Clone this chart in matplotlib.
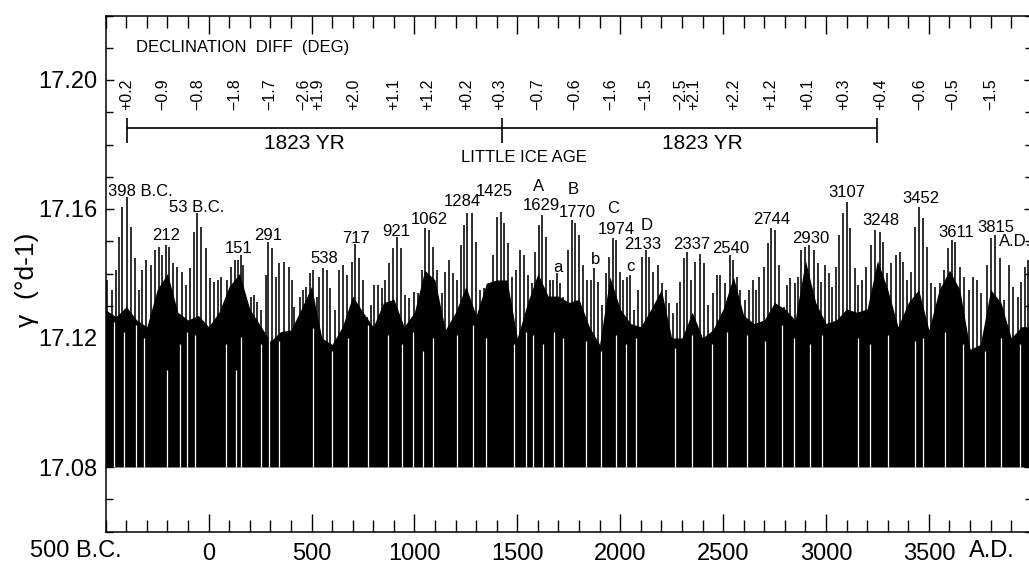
import numpy as np
import matplotlib
matplotlib.use('Agg')
import matplotlib.pyplot as plt
from matplotlib.ticker import MultipleLocator

plt.rcParams['font.family'] = ['Liberation Sans', 'DejaVu Sans']

# tall individual lines (year, gamma)
spike_years = [-492, -468, -452, -435, -419, -398, -379, -359, -338, -322, -306, -282, -262, -241,
               -225, -209, -192, -173, -152, -128, -111, -90, -71, -55, -35, -14, 7, 26, 46, 62,
               91, 107, 127, 143, 156, 169, 188, 204, 221, 237, 256, 277, 290, 310, 326, 342,
               366, 391, 407, 415, 444, 460, 473, 493, 509, 525, 538, 554, 574, 590, 614, 634,
               651, 671, 695, 711, 731, 749, 768, 787, 804, 825, 841, 857, 878, 898, 914, 933,
               954, 975, 998, 1019, 1035, 1051, 1073, 1092, 1108, 1132, 1149, 1170, 1189, 1205,
               1225, 1241, 1257, 1278, 1299, 1319, 1340, 1361, 1380, 1400, 1421, 1437, 1456,
               1474, 1494, 1513, 1534, 1554, 1571, 1588, 1604, 1620, 1640, 1659, 1675, 1691,
               1707, 1724, 1745, 1764, 1782, 1798, 1818, 1837, 1858, 1874, 1894, 1912, 1931,
               1947, 1963, 1980, 1999, 2015, 2031, 2048, 2069, 2088, 2106, 2125, 2142, 2161,
               2182, 2203, 2223, 2239, 2255, 2276, 2292, 2308, 2325, 2344, 2365, 2389, 2409,
               2427, 2449, 2470, 2487, 2511, 2532, 2548, 2568, 2584, 2605, 2624, 2644, 2660,
               2676, 2697, 2718, 2734, 2754, 2770, 2794, 2811, 2827, 2848, 2864, 2880, 2900,
               2919, 2940, 2961, 2977, 2997, 3013, 3029, 3049, 3065, 3083, 3102, 3118, 3139,
               3156, 3175, 3196, 3220, 3240, 3261, 3277, 3298, 3318, 3339, 3358, 3374, 3395,
               3415, 3434, 3452, 3471, 3491, 3512, 3531, 3552, 3573, 3593, 3612, 3629, 3650,
               3671, 3693, 3714, 3735, 3755, 3784, 3803, 3823, 3844, 3865, 3888, 3909, 3933,
               3949, 3965, 3982]
spike_vals = [17.1380, 17.1349, 17.1411, 17.1514, 17.1607, 17.1638, 17.1545, 17.1447, 17.1349,
              17.1411, 17.1442, 17.1426, 17.1473, 17.1483, 17.1457, 17.1488, 17.1483, 17.1432,
              17.1421, 17.1406, 17.1364, 17.1416, 17.1530, 17.1587, 17.1545, 17.1478, 17.1385,
              17.1375, 17.1380, 17.1388, 17.1380, 17.1421, 17.1442, 17.1442, 17.1457, 17.1426,
              17.1287, 17.1328, 17.1333, 17.1313, 17.1287, 17.1395, 17.1499, 17.1478, 17.1390,
              17.1432, 17.1437, 17.1421, 17.1380, 17.1297, 17.1328, 17.1349, 17.1359, 17.1401,
              17.1411, 17.1328, 17.1390, 17.1416, 17.1411, 17.1354, 17.1287, 17.1411, 17.1426,
              17.1395, 17.1437, 17.1491, 17.1447, 17.1380, 17.1266, 17.1302, 17.1364, 17.1364,
              17.1354, 17.1380, 17.1432, 17.1478, 17.1514, 17.1478, 17.1333, 17.1323, 17.1344,
              17.1339, 17.1411, 17.1540, 17.1535, 17.1481, 17.1411, 17.1339, 17.1406, 17.1442,
              17.1401, 17.1380, 17.1488, 17.1550, 17.1587, 17.1587, 17.1499, 17.1349, 17.1354,
              17.1370, 17.1457, 17.1576, 17.1592, 17.1556, 17.1494, 17.1390, 17.1411, 17.1473,
              17.1457, 17.1395, 17.1370, 17.1468, 17.1550, 17.1581, 17.1514, 17.1380, 17.1380,
              17.1401, 17.1370, 17.1328, 17.1473, 17.1566, 17.1556, 17.1519, 17.1426, 17.1380,
              17.1380, 17.1416, 17.1375, 17.1302, 17.1401, 17.1452, 17.1509, 17.1504, 17.1406,
              17.1380, 17.1390, 17.1395, 17.1287, 17.1349, 17.1452, 17.1473, 17.1452, 17.1406,
              17.1426, 17.1370, 17.1349, 17.1307, 17.1276, 17.1307, 17.1375, 17.1447, 17.1468,
              17.1380, 17.1437, 17.1462, 17.1432, 17.1302, 17.1339, 17.1395, 17.1395, 17.1370,
              17.1457, 17.1442, 17.1390, 17.1349, 17.1318, 17.1349, 17.1380, 17.1349, 17.1390,
              17.1421, 17.1494, 17.1540, 17.1535, 17.1426, 17.1297, 17.1364, 17.1385, 17.1370,
              17.1390, 17.1473, 17.1483, 17.1488, 17.1473, 17.1432, 17.1375, 17.1426, 17.1401,
              17.1359, 17.1421, 17.1519, 17.1587, 17.1623, 17.1540, 17.1416, 17.1364, 17.1380,
              17.1421, 17.1488, 17.1535, 17.1530, 17.1499, 17.1401, 17.1432, 17.1457, 17.1468,
              17.1437, 17.1380, 17.1406, 17.1545, 17.1607, 17.1571, 17.1483, 17.1370, 17.1359,
              17.1370, 17.1411, 17.1478, 17.1504, 17.1499, 17.1421, 17.1390, 17.1349, 17.1390,
              17.1380, 17.1339, 17.1426, 17.1509, 17.1519, 17.1447, 17.1318, 17.1426, 17.1359,
              17.1328, 17.1375, 17.1421, 17.1442]

# top of the solid black mass, every 50 years
mass_years = list(range(-500, 4001, 50))
mass_vals = [17.1287, 17.1266, 17.1297, 17.1256, 17.1235, 17.135, 17.140, 17.128, 17.1256, 17.127,
             17.1235, 17.128, 17.136, 17.140, 17.129, 17.124, 17.119, 17.122, 17.1225, 17.129,
             17.136, 17.120, 17.118, 17.1235, 17.133, 17.128, 17.1235, 17.131, 17.132, 17.1235,
             17.128, 17.141, 17.138, 17.1225, 17.128, 17.136, 17.127, 17.137, 17.138, 17.138,
             17.120, 17.131, 17.140, 17.133, 17.133, 17.131, 17.132, 17.1235, 17.118, 17.139,
             17.129, 17.1245, 17.1235, 17.129, 17.135, 17.120, 17.120, 17.128, 17.120, 17.1225,
             17.129, 17.139, 17.127, 17.1245, 17.1256, 17.131, 17.129, 17.1256, 17.144, 17.131,
             17.1245, 17.1256, 17.129, 17.128, 17.129, 17.144, 17.135, 17.1235, 17.131, 17.135,
             17.1225, 17.135, 17.141, 17.135, 17.1165, 17.118, 17.135, 17.131, 17.120, 17.1235,
             17.1235]
baseline = 17.08

# thin white streaks seen inside the black mass
gap_years = [-460, -411, -354, -314, -204, -139, -103, -68, 83, 132, 156, 253, 294, 342,
             509, 598, 679, 776, 873, 938, 995, 1043, 1092, 1205, 1286,
             1348, 1486, 1542, 1575, 1623, 1680, 1724, 1834, 1907, 1980, 2028, 2077,
             2268, 2349, 2446, 2519, 2616, 2705, 2786, 2843, 2924, 2981,
             3156, 3212, 3301, 3431, 3471, 3577, 3666, 3771, 3852, 3941]
gap_tops = [17.125, 17.122, 17.124, 17.120, 17.110, 17.118, 17.122, 17.121, 17.118, 17.110,
            17.1202, 17.118, 17.120, 17.119,
            17.123, 17.116, 17.120, 17.124, 17.121, 17.118, 17.122, 17.116, 17.120, 17.121, 17.124,
            17.120, 17.118, 17.122, 17.121, 17.118, 17.122, 17.120, 17.119, 17.116, 17.121,
            17.118, 17.120,
            17.117, 17.121, 17.118, 17.122, 17.121, 17.119, 17.124, 17.120, 17.118, 17.121,
            17.120, 17.118, 17.121, 17.119, 17.120, 17.122, 17.118, 17.116, 17.120, 17.118]

# peak labels
peak_labels = ['398 B.C.', '212', '53 B.C.', '151', '291', '538', '717', '921', '1062', '1284',
               '1425', '1629', 'A', 'B', '1770', 'C', '1974', 'D', '2133', 'a', 'b', 'c',
               '2337', '2540', '2744', '2930', '3107', '3248', '3452', '3611', '3815', 'A.D.']
peak_lab_x = [-333, -207, -56, 144, 289, 561, 717, 911, 1071, 1231, 1387, 1616, 1601, 1771,
              1790, 1965, 1980, 2126, 2111, 1698, 1878, 2048, 2349, 2539, 2738, 2927, 3102,
              3268, 3462, 3632, 3826, 3918]
peak_lab_y = [17.1653, 17.1519, 17.1606, 17.1479, 17.1519, 17.1448, 17.1510, 17.1529, 17.1566,
              17.1622, 17.1653, 17.1612, 17.1671, 17.1659, 17.1588, 17.1600, 17.1535, 17.1550,
              17.1491, 17.1420, 17.1442, 17.1423, 17.1491, 17.1479, 17.1566, 17.1510, 17.1650,
              17.1563, 17.1634, 17.1526, 17.1544, 17.1498]

# declination differences along the top
decl_labels = ['+0.2', '\u22120.9', '\u22120.8', '\u22121.8', '\u22121.7', '\u22122.6', '+1.9',
               '+2.0', '+1.1', '+1.2', '+0.2', '+0.3', '\u22120.7', '\u22120.6', '\u22121.6',
               '\u22121.5', '\u22122.5', '+2.1', '+2.2', '+1.2', '+0.1', '+0.3', '+0.4',
               '\u22120.6', '\u22120.5', '\u22121.5']
decl_years = [-398, -222, -52, 128, 299, 461, 530, 706, 901, 1066, 1256, 1416, 1601, 1781, 1956,
              2122, 2294, 2358, 2551, 2731, 2911, 3086, 3266, 3456, 3617, 3802]

cycle_years = [-398, 1425, 3248]
xtick_years = [0, 500, 1000, 1500, 2000, 2500, 3000, 3500]

fig = plt.figure(figsize=(10.29, 5.69), dpi=100)
ax = fig.add_axes([105.7 / 1029, 1 - 531.5 / 569, (1031.8 - 105.7) / 1029, 516 / 569])

# lines first, then the solid mass over them, then the white streaks
ax.vlines(spike_years, baseline, spike_vals, color='#2e2e2e', lw=1.4, zorder=1)
ax.fill_between(mass_years, baseline, mass_vals, color='black', lw=0, zorder=2)
ax.vlines(gap_years, baseline, gap_tops, color='white', lw=0.9, zorder=3)

ax.set_xlim(-500, 4000)
ax.set_ylim(17.06, 17.22)

ax.xaxis.set_minor_locator(MultipleLocator(100))
ax.set_xticks(xtick_years)
ax.set_xticklabels([str(y) for y in xtick_years])
ax.set_yticks([17.08, 17.12, 17.16, 17.20])
ax.set_yticklabels(['17.08', '17.12', '17.16', '17.20'])
ax.yaxis.set_minor_locator(MultipleLocator(0.01))
ax.tick_params(which='both', direction='in', top=True, right=True, labelsize=17, width=1.0)
ax.tick_params(axis='x', which='major', length=13, pad=8)
ax.tick_params(axis='x', which='minor', length=8.5)
ax.tick_params(axis='y', which='major', length=6, pad=6)
ax.tick_params(axis='y', which='minor', length=5)
for s in ax.spines.values():
    s.set_linewidth(1.1)

# era labels on the bottom axis
lab_y = 1 - 551 / 569
fig.text(76 / 1029, lab_y, '500 B.C.', ha='center', va='center', fontsize=17)
fig.text(992 / 1029, lab_y, 'A.D.', ha='center', va='center', fontsize=17)

fig.text(27 / 1029, 1 - 280 / 569, '\u03b3  (\u00b0d-1)', rotation=90, ha='center', va='center',
         fontsize=19)

# peak annotations
for lab, xx, yy in zip(peak_labels, peak_lab_x, peak_lab_y):
    ax.text(xx, yy, lab, ha='center', va='center', fontsize=12, zorder=4)

# declination row
ax.text(-353, 17.2102, 'DECLINATION  DIFF  (DEG)', ha='left', va='center', fontsize=12)
for lab, xx in zip(decl_labels, decl_years):
    ax.text(xx, 17.1907, lab, rotation=90, ha='center', va='bottom', fontsize=11.5)

# 1823 year brackets
ax.hlines(17.1852, cycle_years[0], cycle_years[-1], color='black', lw=1.2)
ax.vlines(cycle_years, 17.1806, 17.1883, color='black', lw=1.2)
ax.text(463, 17.1802, '1823 YR', ha='center', va='center', fontsize=15)
ax.text(2398, 17.1802, '1823 YR', ha='center', va='center', fontsize=15)
ax.text(1533, 17.1761, 'LITTLE ICE AGE', ha='center', va='center', fontsize=12)

fig.savefig('out.png', dpi=100)
